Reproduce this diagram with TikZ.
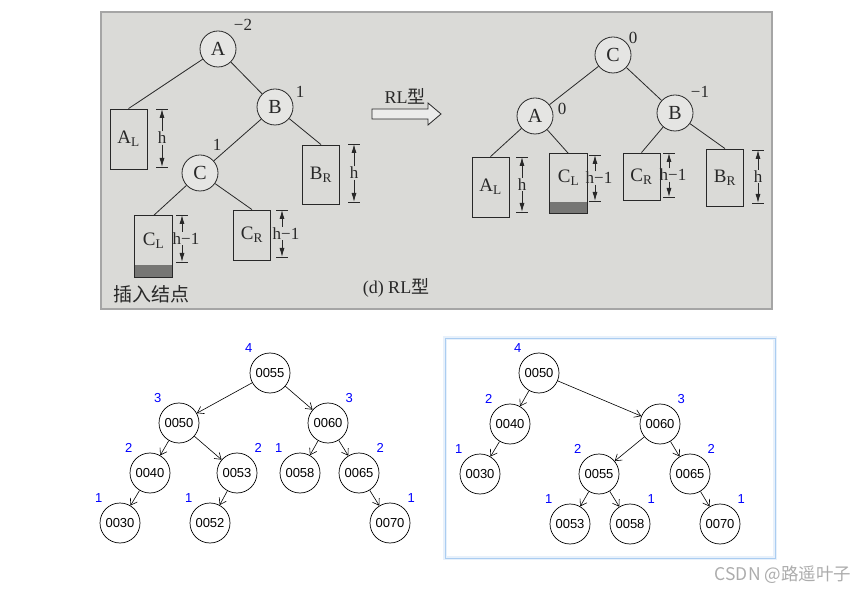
\documentclass[tikz,border=0pt]{standalone}
\usepackage{fontspec}
\setmainfont{Liberation Serif}
\newfontfamily\cjk{Noto Sans CJK SC}
\newfontfamily\arialf{Liberation Sans}
\usetikzlibrary{arrows.meta,positioning,calc}
\definecolor{paper}{RGB}{218,218,215}
\definecolor{ink}{RGB}{40,40,40}
\definecolor{framegray}{RGB}{165,165,165}
\definecolor{shadegray}{RGB}{118,118,116}
\definecolor{balblue}{RGB}{0,0,255}
\definecolor{glowblue}{RGB}{150,192,238}
\tikzset{
  bknode/.style={draw=ink, circle, minimum size=36pt, inner sep=0pt, fill=paper!70!white, line width=0.8pt, text=ink, font=\fontsize{20}{22}\selectfont},
  subtree/.style={draw=ink, rectangle, minimum width=37pt, minimum height=#1, inner sep=0pt, line width=0.8pt, text=ink, font=\fontsize{19}{21}\selectfont},
  bkbal/.style={text=ink, inner sep=0pt, font=\fontsize{17}{19}\selectfont},
  bkline/.style={draw=ink, line width=0.8pt},
  dimlab/.style={text=ink, inner sep=0.5pt, font=\fontsize{17}{19}\selectfont},
  dimarrow/.style={-{Latex[length=9pt,width=5pt]}, draw=ink, line width=0.8pt},
  dimtick/.style={draw=ink, line width=0.8pt},
  avl/.style={draw, circle, minimum size=40pt, inner sep=0pt, line width=0.7pt, font=\arialf\fontsize{13}{15}\selectfont},
  bal/.style={text=balblue, inner sep=1pt, font=\arialf\fontsize{13}{15}\selectfont},
  edge/.style={-{Straight Barb[length=6pt,width=8pt]}, line width=0.6pt}
}

\begin{document}
\begin{tikzpicture}[x=1pt,y=-1pt]
  \useasboundingbox (0,0) rectangle (862,593);

  % book figure (RL rotation)
  \fill[paper] (101,12) rectangle (772,309);
  \draw[framegray, line width=2pt] (101,12) rectangle (772,309);

  % before rotation
  \node[bknode] (A) at (218,49) {A};
  \node[bknode] (B) at (275,107) {B};
  \node[bknode] (C) at (200,173) {C};
  \node[subtree=60pt] (AL) at (128.5,139) {A\textsubscript{L}};
  \node[subtree=59pt] (BR) at (321,174.5) {B\textsubscript{R}};
  \node[subtree=61pt, draw=none] (CL) at (153.5,246.5) {};
  \node[subtree=50pt] (CR) at (252,235) {C\textsubscript{R}};
  \fill[shadegray] ([yshift=12pt]CL.south west) rectangle (CL.south east);
  \draw[ink, line width=0.8pt] (CL.north west) rectangle (CL.south east);
  \node[text=ink, font=\fontsize{19}{21}\selectfont] (CLtext) at (153.5,241) {C\textsubscript{L}};
  \node[bkbal] (balA) at (243,25) {−2};
  \node[bkbal] (balB) at (300,92) {1};
  \node[bkbal] (balC) at (217,145) {1};

  \draw[bkline] (A) -- (AL.north);
  \draw[bkline] (A) -- (B);
  \draw[bkline] (B) -- (C);
  \draw[bkline] (B) -- (BR.north);
  \draw[bkline] (C) -- (CL.north);
  \draw[bkline] (C) -- (CR.north);

  % arrow between the two trees
  \draw[ink, line width=0.8pt, fill=paper!50!white] (372,109) -- (428,109) -- (428,103) -- (441,114) -- (428,125) -- (428,119) -- (372,119) -- cycle;
  \node[text=ink, font=\fontsize{18}{20}\selectfont] (rltag) at (405,96) {RL{\cjk 型}};

  % after rotation
  \node[bknode] (C2) at (613,55) {C};
  \node[bknode] (A2) at (535,116) {A};
  \node[bknode] (B2) at (675,113) {B};
  \node[subtree=60pt] (AL2) at (490.5,187) {A\textsubscript{L}};
  \node[subtree=59pt, draw=none] (CL2) at (568.5,183.5) {};
  \node[subtree=47pt] (CR2) at (641.5,176.5) {C\textsubscript{R}};
  \node[subtree=57pt] (BR2) at (725,177.5) {B\textsubscript{R}};
  \fill[shadegray] ([yshift=11pt]CL2.south west) rectangle (CL2.south east);
  \draw[ink, line width=0.8pt] (CL2.north west) rectangle (CL2.south east);
  \node[text=ink, font=\fontsize{19}{21}\selectfont] (CL2text) at (568.5,178) {C\textsubscript{L}};
  \node[bkbal] (balC2) at (633,38) {0};
  \node[bkbal] (balA2) at (562,109) {0};
  \node[bkbal] (balB2) at (700,92) {−1};

  \draw[bkline] (C2) -- (A2);
  \draw[bkline] (C2) -- (B2);
  \draw[bkline] (A2) -- (AL2.north);
  \draw[bkline] (A2) -- (CL2.north);
  \draw[bkline] (B2) -- (CR2.north);
  \draw[bkline] (B2) -- (BR2.north);

  % height marks
  \foreach \nm/\x/\ya/\yb/\dx/\lab in {dAL/162/109/167/0/h, dBR/354/144/202/0/h, dCL/182/215/262/4/h−1, dCR/282/210/257/4/h−1,
      dALb/522/157/212/0/h, dCLb/595/155/201/4/h−1, dCRb/669/153/197/4/h−1, dBRb/758/150/203/0/h}{
    \coordinate (\nm-t) at (\x,\ya);
    \coordinate (\nm-b) at (\x,\yb);
    \node[dimlab, xshift=\dx pt] (\nm) at ($(\nm-t)!0.5!(\nm-b)$) {\lab};
    \draw[dimtick] ([xshift=-6pt]\nm-t) -- ([xshift=6pt]\nm-t);
    \draw[dimtick] ([xshift=-6pt]\nm-b) -- ([xshift=6pt]\nm-b);
    \draw[dimarrow] (\nm.north -| \nm-t) -- (\nm-t);
    \draw[dimarrow] (\nm.south -| \nm-b) -- (\nm-b);
  }

  \node[text=ink, font=\cjk\fontsize{19}{22}\selectfont] (insnote) at (151,294) {插入结点};
  \node[text=ink, font=\fontsize{18}{20}\selectfont] (caption) at (396,288) {(d) RL{\cjk 型}};

  % AVL tree before rotation
  \node[avl] (a55) at (270,373) {0055};
  \node[avl] (a50) at (179,423) {0050};
  \node[avl] (a60) at (328,423) {0060};
  \node[avl] (a40) at (150,473) {0040};
  \node[avl] (a53) at (237,473) {0053};
  \node[avl] (a58) at (300,473) {0058};
  \node[avl] (a65) at (359,473) {0065};
  \node[avl] (a30) at (120,523) {0030};
  \node[avl] (a52) at (210,523) {0052};
  \node[avl] (a70) at (390,523) {0070};
  \node[bal, above left=5pt and 2pt of a55] (ba55) {4};
  \node[bal, above left=5pt and 2pt of a50] (ba50) {3};
  \node[bal, above right=5pt and 2pt of a60] (ba60) {3};
  \node[bal, above left=5pt and 2pt of a40] (ba40) {2};
  \node[bal, above right=5pt and 2pt of a53] (ba53) {2};
  \node[bal, above left=5pt and 2pt of a58] (ba58) {1};
  \node[bal, above right=5pt and 2pt of a65] (ba65) {2};
  \node[bal, above left=5pt and 2pt of a30] (ba30) {1};
  \node[bal, above left=5pt and 2pt of a52] (ba52) {1};
  \node[bal, above right=5pt and 2pt of a70] (ba70) {1};
  \draw[edge] (a55) -- (a50);
  \draw[edge] (a55) -- (a60);
  \draw[edge] (a50) -- (a40);
  \draw[edge] (a50) -- (a53);
  \draw[edge] (a40) -- (a30);
  \draw[edge] (a53) -- (a52);
  \draw[edge] (a60) -- (a58);
  \draw[edge] (a60) -- (a65);
  \draw[edge] (a65) -- (a70);

  % AVL tree after rotation
  \draw[glowblue!22, line width=4pt] (445,338) rectangle (775,558);
  \draw[glowblue!80, line width=0.8pt] (445,338) rectangle (775,558);
  \node[avl] (r50) at (539,373) {0050};
  \node[avl] (r40) at (510,424) {0040};
  \node[avl] (r60) at (660,424) {0060};
  \node[avl] (r30) at (480,474) {0030};
  \node[avl] (r55) at (599,474) {0055};
  \node[avl] (r65) at (690,474) {0065};
  \node[avl] (r53) at (570,524) {0053};
  \node[avl] (r58) at (630,524) {0058};
  \node[avl] (r70) at (720,524) {0070};
  \node[bal, above left=5pt and 2pt of r50] (br50) {4};
  \node[bal, above left=5pt and 2pt of r40] (br40) {2};
  \node[bal, above right=5pt and 2pt of r60] (br60) {3};
  \node[bal, above left=5pt and 2pt of r30] (br30) {1};
  \node[bal, above left=5pt and 2pt of r55] (br55) {2};
  \node[bal, above right=5pt and 2pt of r65] (br65) {2};
  \node[bal, above left=5pt and 2pt of r53] (br53) {1};
  \node[bal, above right=5pt and 2pt of r58] (br58) {1};
  \node[bal, above right=5pt and 2pt of r70] (br70) {1};
  \draw[edge] (r50) -- (r40);
  \draw[edge] (r50) -- (r60);
  \draw[edge] (r40) -- (r30);
  \draw[edge] (r60) -- (r55);
  \draw[edge] (r60) -- (r65);
  \draw[edge] (r55) -- (r53);
  \draw[edge] (r55) -- (r58);
  \draw[edge] (r65) -- (r70);

  \node[text=gray!65, inner sep=0pt, font=\cjk\fontsize{17.5}{20}\selectfont] (wm) at (783,575) {CSDN @路遥叶子};
\end{tikzpicture}
\end{document}
